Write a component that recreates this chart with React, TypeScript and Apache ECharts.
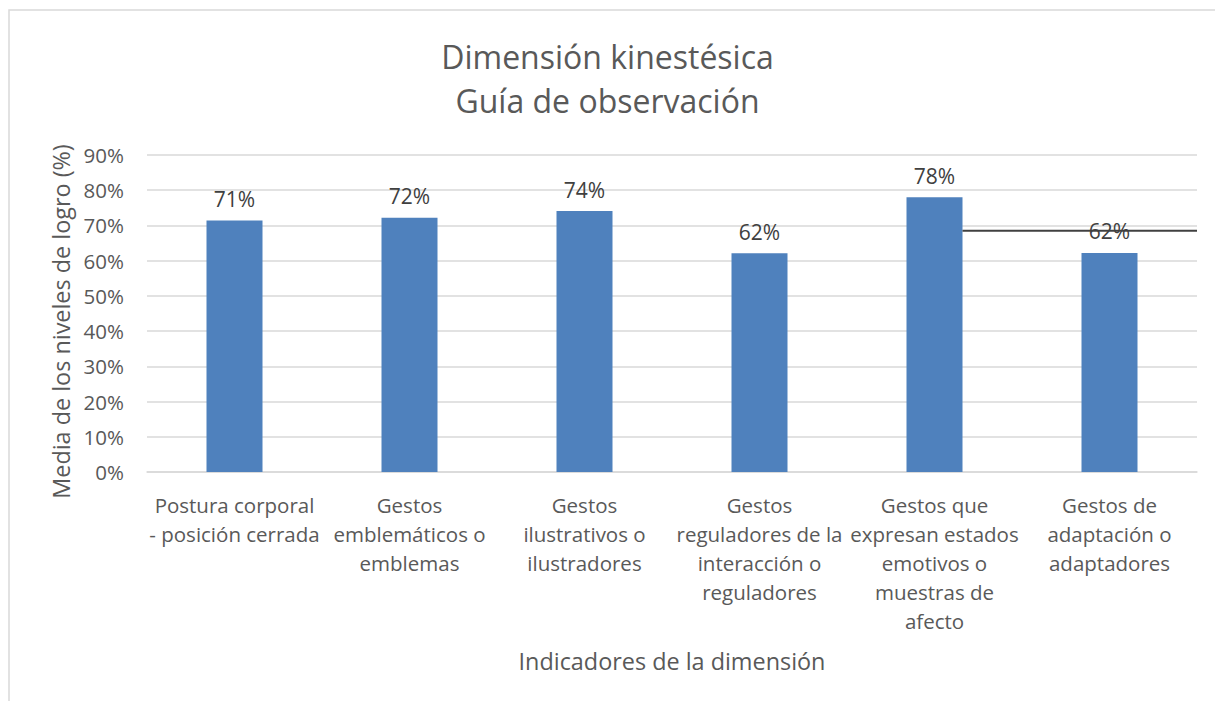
import React, { useEffect, useRef } from "react";
import * as echarts from "echarts";

const titleLines = ["Dimensión kinestésica", "Guía de observación"];
const categories = [
  "Postura corporal\n- posición cerrada",
  "Gestos\nemblemáticos o\nemblemas",
  "Gestos\nilustrativos o\nilustradores",
  "Gestos\nreguladores de la\ninteracción o\nreguladores",
  "Gestos que\nexpresan estados\nemotivos o\nmuestras de\nafecto",
  "Gestos de\nadaptación o\nadaptadores",
];
const values = [71.4, 72.2, 74.1, 62.1, 78.0, 62.2];
const refLineValue = 68.5;
const refLineFromCategory = 4;
const yAxisName = "Media de los niveles de logro (%)";
const xAxisName = "Indicadores de la dimensión";

const FONT = "'Open Sans', 'Noto Sans', sans-serif";

export default function App() {
  const ref = useRef<HTMLDivElement>(null);
  useEffect(() => {
    if (!ref.current) return;
    const chart = echarts.init(ref.current, null, { renderer: "svg" });
    const barWidth = 56;
    const gridLeft = 147;
    const gridRight = 1215 - 1197;
    chart.setOption({
      animation: false,
      backgroundColor: "#ffffff",
      textStyle: { fontFamily: FONT },
      title: {
        text: titleLines.join("\n"),
        left: "center",
        top: 29,
        textStyle: {
          fontFamily: FONT,
          fontSize: 32,
          fontWeight: "normal",
          color: "#595959",
          lineHeight: 44,
        },
      },
      grid: { left: gridLeft, right: gridRight, top: 155, bottom: 701 - 472 },
      xAxis: {
        type: "category",
        data: categories,
        name: xAxisName,
        nameLocation: "middle",
        nameGap: 177,
        nameTextStyle: { fontFamily: FONT, fontSize: 23.4, color: "#595959" },
        axisLine: { lineStyle: { color: "#d9d9d9", width: 1.5 } },
        axisTick: { show: false },
        axisLabel: {
          interval: 0,
          margin: 18,
          fontFamily: FONT,
          fontSize: 20.5,
          lineHeight: 29,
          color: "#595959",
        },
      },
      yAxis: {
        type: "value",
        min: 0,
        max: 90,
        interval: 10,
        name: yAxisName,
        nameLocation: "middle",
        nameGap: 72,
        nameTextStyle: {
          fontFamily: FONT,
          fontSize: 23.4,
          color: "#595959",
          padding: [0, 16, 0, 0],
        },
        axisLine: { show: false },
        axisTick: { show: false },
        splitLine: { lineStyle: { color: "#d9d9d9", width: 1.5 } },
        axisLabel: {
          fontFamily: FONT,
          fontSize: 20.5,
          color: "#595959",
          margin: 23,
          formatter: (v: number) => `${v}%`,
        },
      },
      series: [
        {
          type: "bar",
          data: values,
          barWidth,
          itemStyle: { color: "#4f81bd" },
          label: {
            show: true,
            position: "top",
            distance: 11,
            fontFamily: FONT,
            fontSize: 21,
            color: "#404040",
            formatter: (p: any) => `${Math.round(p.value)}%`,
          },
        },
      ],
    });

    const start = chart.convertToPixel({ gridIndex: 0 }, [refLineFromCategory, refLineValue]);
    const x0 = start[0] + barWidth / 2;
    const x1 = 1215 - gridRight;
    const y = start[1];
    chart.setOption({
      graphic: [
        {
          type: "rect",
          shape: { x: 9, y: 10, width: 1220, height: 720 },
          style: { fill: "none", stroke: "#d9d9d9", lineWidth: 1.5 },
          silent: true,
          z: -1,
        },
        {
          type: "line",
          shape: { x1: x0, y1: y, x2: x1, y2: y },
          style: { stroke: "#404040", lineWidth: 2 },
          z: 10,
        },
      ],
    });
    return () => chart.dispose();
  }, []);
  return (
    <div
      ref={ref}
      style={{ position: "fixed", left: 0, top: 0, width: 1215, height: 701 }}
    />
  );
}
